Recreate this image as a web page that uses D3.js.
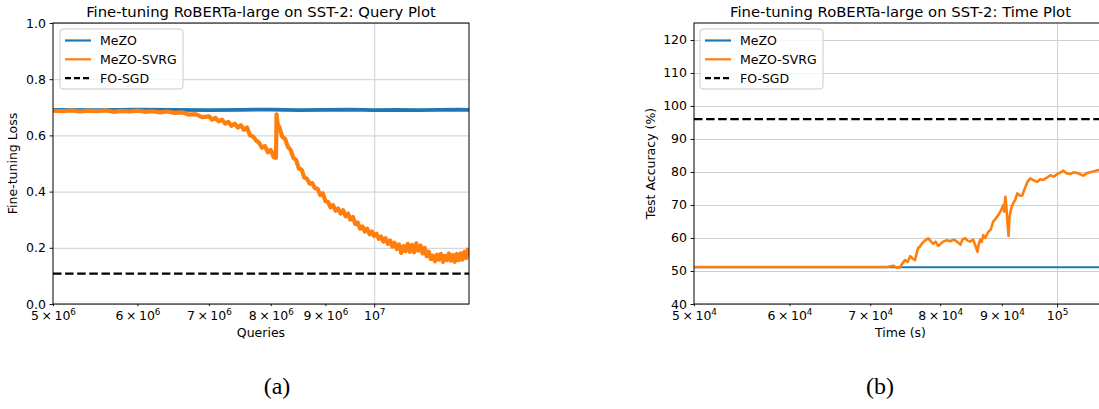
<!DOCTYPE html>
<html><head><meta charset="utf-8">
<script src="https://cdn.jsdelivr.net/npm/d3@7"></script>
<style>
body{margin:0;background:#fff}
svg{display:block}
text{font-family:"DejaVu Sans",sans-serif;fill:#000}
</style>
</head><body>
<svg id="c" width="1099" height="409"></svg>
<script>
// ---------------- DATA ----------------
const seriesNames = ["MeZO", "MeZO-SVRG", "FO-SGD"];
const seriesColors = ["#1f77b4", "#ff7f0e", "#000000"];

// Panel (a): queries (millions) vs fine-tuning loss
const queryTicks = [5, 6, 7, 8, 9, 10];
const queryTickBase = ["5\u2009×\u200910", "6\u2009×\u200910", "7\u2009×\u200910", "8\u2009×\u200910", "9\u2009×\u200910", "10"];
const queryTickExp = ["6", "6", "6", "6", "6", "7"];
const lossTicks = [0.0, 0.2, 0.4, 0.6, 0.8, 1.0];

const mezoQ =    [5.0, 5.5, 6.0, 6.5, 7.0, 7.5, 8.0, 8.5, 9.0, 9.5, 10.0, 10.5, 11.0, 11.5, 12.0, 12.27];
const mezoLoss = [0.691, 0.690, 0.692, 0.691, 0.690, 0.691, 0.692, 0.690, 0.691, 0.692, 0.690, 0.691, 0.690, 0.691, 0.692, 0.691];

const svrgQ = [5.0, 5.1, 5.2, 5.3, 5.4, 5.5, 5.6, 5.7, 5.8, 5.9, 6.0, 6.1, 6.2, 6.3, 6.4, 6.5, 6.6, 6.7, 6.8, 6.9,
  7.0, 7.05, 7.1, 7.15, 7.2, 7.25, 7.3, 7.35, 7.4, 7.45, 7.5, 7.55, 7.6, 7.65, 7.7, 7.75, 7.8, 7.85, 7.9, 7.95,
  8.0, 8.05, 8.08, 8.09, 8.1, 8.12, 8.15, 8.2, 8.25, 8.3, 8.35, 8.4, 8.45, 8.5, 8.55, 8.6, 8.65, 8.7, 8.75, 8.8,
  8.85, 8.9, 8.95, 9.0, 9.05, 9.1, 9.15, 9.2, 9.25, 9.3, 9.35, 9.4, 9.45, 9.5, 9.55, 9.6, 9.65, 9.7, 9.75, 9.8,
  9.85, 9.9, 9.95, 10.0, 10.05, 10.1, 10.15, 10.2, 10.25, 10.3, 10.35, 10.4, 10.45, 10.5, 10.55, 10.6, 10.65, 10.7, 10.75, 10.8,
  10.85, 10.9, 10.95, 11.0, 11.05, 11.1, 11.15, 11.2, 11.25, 11.3, 11.35, 11.4, 11.45, 11.5, 11.55, 11.6, 11.65, 11.7, 11.75, 11.8,
  11.85, 11.9, 11.95, 12.0, 12.05, 12.1, 12.15, 12.2, 12.25];
const svrgLoss = [0.688, 0.686, 0.689, 0.685, 0.688, 0.686, 0.689, 0.684, 0.687, 0.685, 0.688, 0.684, 0.686, 0.682, 0.685, 0.680, 0.682, 0.674, 0.676, 0.665,
  0.668, 0.656, 0.662, 0.650, 0.656, 0.642, 0.648, 0.634, 0.642, 0.628, 0.636, 0.620, 0.628, 0.600, 0.596, 0.582, 0.574, 0.556, 0.562, 0.540,
  0.548, 0.522, 0.540, 0.520, 0.675, 0.640, 0.628, 0.596, 0.588, 0.560, 0.548, 0.520, 0.512, 0.482, 0.478, 0.450, 0.446, 0.428, 0.430, 0.412,
  0.410, 0.388, 0.394, 0.366, 0.364, 0.344, 0.352, 0.332, 0.340, 0.322, 0.334, 0.312, 0.322, 0.300, 0.310, 0.284, 0.290, 0.268, 0.276, 0.258,
  0.268, 0.248, 0.258, 0.242, 0.250, 0.232, 0.240, 0.222, 0.234, 0.214, 0.226, 0.204, 0.218, 0.196, 0.212, 0.182, 0.206, 0.188, 0.214, 0.186,
  0.210, 0.184, 0.216, 0.190, 0.208, 0.180, 0.200, 0.170, 0.186, 0.160, 0.172, 0.152, 0.176, 0.158, 0.178, 0.150, 0.172, 0.156, 0.180, 0.154,
  0.174, 0.150, 0.178, 0.156, 0.180, 0.158, 0.186, 0.164, 0.200];
const foSgdLoss = 0.108;

// Panel (b): time (s) vs test accuracy
const timeTicks = [50000, 60000, 70000, 80000, 90000, 100000];
const timeTickBase = ["5\u2009×\u200910", "6\u2009×\u200910", "7\u2009×\u200910", "8\u2009×\u200910", "9\u2009×\u200910", "10"];
const timeTickExp = ["4", "4", "4", "4", "4", "5"];
const accTicks = [40, 50, 60, 70, 80, 90, 100, 110, 120];

const mezoT =   [50000, 60000, 70000, 80000, 90000, 100000, 110000];
const mezoAcc = [51.1, 51.1, 51.1, 51.1, 51.1, 51.1, 51.1];

const svrgT = [50000, 55000, 60000, 65000, 70000, 72300, 73150, 73600, 74100, 74400, 74800, 75200, 75550, 75900, 76250, 76500, 76700, 77000, 77300, 77700,
  78200, 78600, 78950, 79300, 79700, 80450, 81000, 81550, 82100, 82650, 83150, 83500, 83950, 84300, 84700, 85200, 85600, 85900, 86100, 86350,
  86600, 86850, 87200, 87700, 88100, 88500, 88900, 89400, 89800, 90250, 90400, 90600, 90800, 91000, 91150, 91300, 91450, 91700, 92000, 92300,
  92700, 93200, 93600, 93900, 94150, 94500, 95000, 95600, 96300, 96800, 97400, 98000, 98700, 99400, 100050, 100600, 101200, 101800, 102550, 103200,
  103950, 104500, 105150, 105800, 106550, 107300, 108200, 109000, 110000];
const svrgAcc = [51.2, 51.2, 51.2, 51.2, 51.2, 51.2, 51.6, 51.0, 51.1, 52.2, 53.3, 52.8, 54.5, 53.8, 53.3, 55.5, 56.9, 57.5, 58.4, 59.2,
  59.9, 59.0, 58.2, 58.9, 57.6, 58.9, 59.3, 59.0, 59.5, 58.8, 58.0, 59.6, 59.9, 59.2, 58.9, 59.5, 57.5, 55.8, 58.0, 59.5,
  58.8, 60.9, 60.0, 61.9, 62.5, 64.9, 65.8, 67.0, 68.2, 70.0, 68.0, 72.5, 69.0, 64.0, 60.6, 66.0, 67.5, 69.5, 70.6, 71.5,
  73.5, 72.8, 72.9, 74.5, 75.5, 77.0, 78.1, 77.5, 77.0, 77.8, 77.6, 78.2, 79.0, 78.6, 79.4, 79.8, 80.4, 79.6, 79.4, 79.9,
  79.7, 79.3, 78.9, 79.6, 79.9, 80.2, 80.6, 80.3, 80.8];
const foSgdAcc = 96.0;

// ---------------- DRAW ----------------
const svg = d3.select("#c");
const FS = 12.5;

function panel(cfg) {
  const g = svg.append("g");
  const x = d3.scaleLog().domain(cfg.xDomain).range([cfg.x0, cfg.x1]);
  const y = d3.scaleLinear().domain(cfg.yDomain).range([cfg.y1, cfg.y0]);
  const clipId = "clip" + cfg.id;
  svg.append("clipPath").attr("id", clipId).append("rect")
    .attr("x", cfg.x0).attr("y", cfg.y0).attr("width", cfg.x1 - cfg.x0).attr("height", cfg.y1 - cfg.y0);

  // grid
  const gy = g.append("g").attr("transform", `translate(${cfg.x0},0)`)
    .call(d3.axisLeft(y).tickValues(cfg.yTicks).tickSize(-(cfg.x1 - cfg.x0)).tickFormat(""));
  gy.select(".domain").remove();
  gy.selectAll("line").attr("stroke", "#cfcfcf").attr("stroke-width", 1);
  const gx = g.append("g").attr("transform", `translate(0,${cfg.y0})`)
    .call(d3.axisBottom(x).tickValues([cfg.xTicks[cfg.xTicks.length - 1]]).tickSize(cfg.y1 - cfg.y0).tickFormat(""));
  gx.select(".domain").remove();
  gx.selectAll("line").attr("stroke", "#cfcfcf").attr("stroke-width", 1);

  // lines
  const lines = g.append("g").attr("clip-path", `url(#${clipId})`);
  const line = d3.line().x(d => x(d[0])).y(d => y(d[1]));
  lines.append("path").datum(d3.zip(cfg.mezoX, cfg.mezoY)).attr("d", line)
    .attr("fill", "none").attr("stroke", seriesColors[0]).attr("stroke-width", cfg.mezoW);
  lines.append("path").datum(d3.zip(cfg.svrgX, cfg.svrgY)).attr("d", line)
    .attr("fill", "none").attr("stroke", seriesColors[1]).attr("stroke-width", cfg.svrgW).attr("stroke-linejoin", "round");
  lines.append("path").datum([[cfg.xDomain[0], cfg.fo], [cfg.xDomain[1], cfg.fo]]).attr("d", line)
    .attr("fill", "none").attr("stroke", seriesColors[2]).attr("stroke-width", 2.2).attr("stroke-dasharray", "8.5,3.6");

  // y axis
  const ya = g.append("g").attr("transform", `translate(${cfg.x0},0)`)
    .call(d3.axisLeft(y).tickValues(cfg.yTicks).tickFormat(cfg.yFmt).tickSize(3.5).tickPadding(3.5));
  ya.select(".domain").remove();
  ya.selectAll("line").attr("stroke", "#000").attr("stroke-width", 0.9);
  ya.selectAll("text").style("font-size", FS + "px").style("font-family", "DejaVu Sans").attr("fill", "#000");

  // x axis
  const xa = g.append("g").attr("transform", `translate(0,${cfg.y1})`)
    .call(d3.axisBottom(x).tickValues(cfg.xTicks).tickFormat("").tickSize(3.5).tickPadding(3.5));
  xa.select(".domain").remove();
  xa.selectAll("line").attr("stroke", "#000").attr("stroke-width", 0.9)
    .attr("y2", (d, i) => i === cfg.xTicks.length - 1 ? 3.5 : 2.2);
  xa.selectAll(".tick text").remove();
  xa.selectAll(".tick").each(function (d, i) {
    const t = d3.select(this).append("text").attr("x", 0).attr("y", 16)
      .attr("text-anchor", "middle").style("font-size", FS + "px").attr("fill", "#000");
    t.append("tspan").text(cfg.xBase[i]);
    t.append("tspan").attr("dy", -5.2).style("font-size", "8.8px").text(cfg.xExp[i]);
  });

  // spines
  g.append("rect").attr("x", cfg.x0).attr("y", cfg.y0).attr("width", cfg.x1 - cfg.x0).attr("height", cfg.y1 - cfg.y0)
    .attr("fill", "none").attr("stroke", "#000").attr("stroke-width", 1);

  // labels
  g.append("text").attr("x", (cfg.x0 + cfg.x1) / 2).attr("y", 17).attr("text-anchor", "middle")
    .style("font-size", "14.8px").text(cfg.title);
  g.append("text").attr("x", (cfg.x0 + cfg.x1) / 2).attr("y", 337).attr("text-anchor", "middle")
    .style("font-size", FS + "px").text(cfg.xLabel);
  g.append("text").attr("transform", `translate(${cfg.yLabelX},${(cfg.y0 + cfg.y1) / 2}) rotate(-90)`)
    .attr("text-anchor", "middle").style("font-size", FS + "px").text(cfg.yLabel);

  // legend
  const lg = g.append("g").attr("transform", `translate(${cfg.legX},29)`);
  lg.append("rect").attr("x", 0).attr("y", 0).attr("width", 123).attr("height", 60).attr("rx", 3)
    .attr("fill", "#fff").attr("fill-opacity", 0.8).attr("stroke", "#cccccc").attr("stroke-width", 1);
  seriesNames.forEach((n, i) => {
    const yy = 11.5 + i * 18.8;
    lg.append("line").attr("x1", 5).attr("x2", 31).attr("y1", yy).attr("y2", yy)
      .attr("stroke", seriesColors[i]).attr("stroke-width", 2.2)
      .attr("stroke-dasharray", i === 2 ? "6,3" : null);
    lg.append("text").attr("x", 40).attr("y", yy + 4.5).style("font-size", FS + "px").text(n);
  });

  // subcaption
  svg.append("text").attr("x", cfg.capX).attr("y", 394).attr("text-anchor", "middle")
    .style("font-family", "'Liberation Serif', serif").style("font-size", "24px").text(cfg.cap);
}

panel({
  id: "a", x0: 53, x1: 469, y0: 23, y1: 304,
  xDomain: [5, 12.27], yDomain: [0, 1],
  xTicks: queryTicks, xBase: queryTickBase, xExp: queryTickExp,
  yTicks: lossTicks, yFmt: d3.format(".1f"),
  mezoX: mezoQ, mezoY: mezoLoss, mezoW: 3.8,
  svrgX: svrgQ, svrgY: svrgLoss, svrgW: 4.2,
  fo: foSgdLoss,
  title: "Fine-tuning RoBERTa-large on SST-2: Query Plot",
  xLabel: "Queries", yLabel: "Fine-tuning Loss", yLabelX: 17,
  legX: 60, cap: "(a)", capX: 277
});

panel({
  id: "b", x0: 694, x1: 1107, y0: 23, y1: 304,
  xDomain: [50000, 110000], yDomain: [40, 125.15],
  xTicks: timeTicks, xBase: timeTickBase, xExp: timeTickExp,
  yTicks: accTicks, yFmt: d3.format("d"),
  mezoX: mezoT, mezoY: mezoAcc, mezoW: 2,
  svrgX: svrgT, svrgY: svrgAcc, svrgW: 2.6,
  fo: foSgdAcc,
  title: "Fine-tuning RoBERTa-large on SST-2: Time Plot",
  xLabel: "Time (s)", yLabel: "Test Accuracy (%)", yLabelX: 655,
  legX: 700, cap: "(b)", capX: 880
});
</script>
</body></html>
